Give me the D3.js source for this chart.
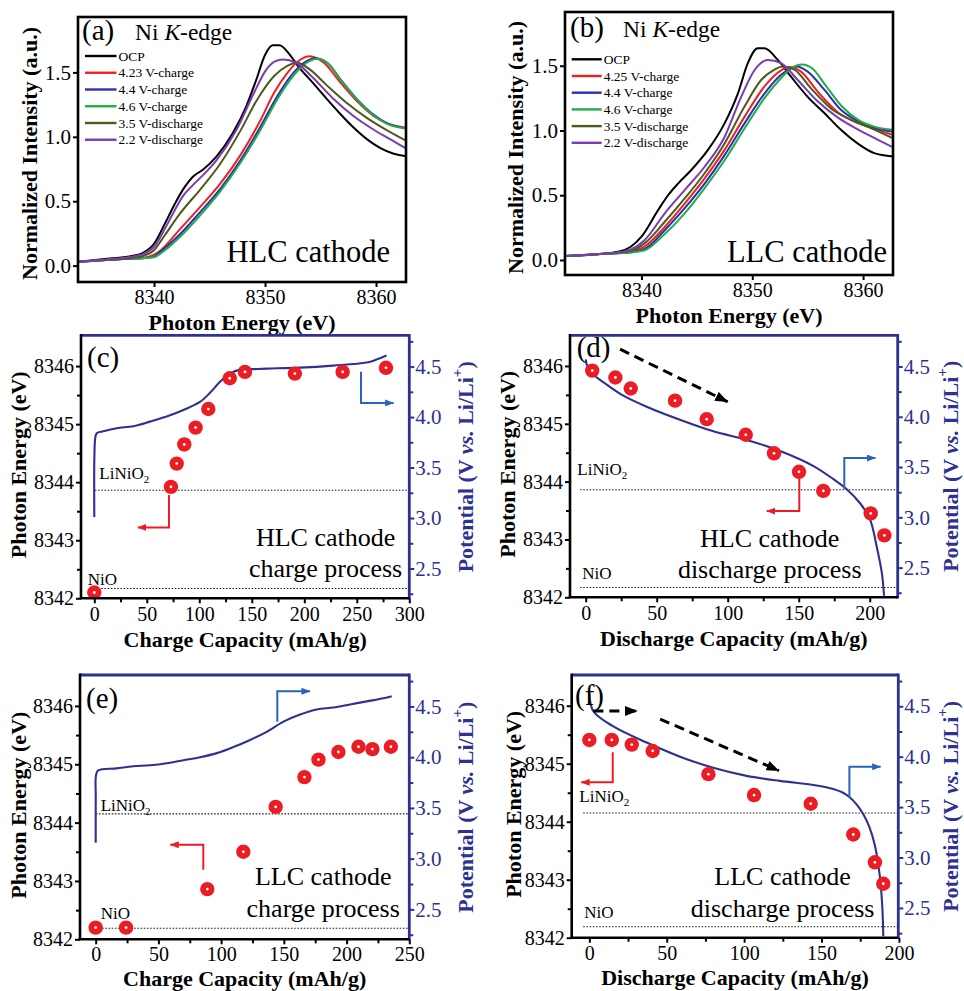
<!DOCTYPE html>
<html>
<head>
<meta charset="utf-8">
<script src="https://cdn.jsdelivr.net/npm/d3@7"></script>
<style>
  html, body { margin: 0; padding: 0; background: #fff; }
  svg { display: block; }
</style>
</head>
<body>
<svg id="fig" width="964" height="991"></svg>
<script>
// ---------------- Ni K-edge XANES spectra: [photon energy (eV), normalized intensity] ----------------
const legendA = ["OCP", "4.23 V-charge", "4.4 V-charge", "4.6 V-charge", "3.5 V-discharge", "2.2 V-discharge"];
const legendB = ["OCP", "4.25 V-charge", "4.4 V-charge", "4.6 V-charge", "3.5 V-discharge", "2.2 V-discharge"];
const seriesColors = ["#000000", "#f0201e", "#2b2fb0", "#1fae48", "#4d5a1c", "#7a3bb4"];

const hlcOCP = [[8333.2,0.03],[8336,0.055],[8338,0.075],[8339,0.10],[8340,0.17],[8341,0.33],[8342,0.50],[8342.8,0.615],[8343.5,0.69],[8344.4,0.745],[8345.6,0.845],[8347.1,1.03],[8348.3,1.235],[8349.2,1.44],[8350,1.635],[8350.7,1.71],[8351.3,1.71],[8352.2,1.64],[8353.1,1.535],[8354.3,1.42],[8355.5,1.30],[8356.7,1.185],[8358,1.07],[8359.2,0.98],[8360.4,0.912],[8361.6,0.868],[8362.7,0.85]];
const hlc423 = [[8333.2,0.03],[8336,0.045],[8338,0.055],[8339,0.06],[8340,0.085],[8340.6,0.12],[8342.3,0.28],[8344.1,0.45],[8346,0.64],[8347.8,0.86],[8349.6,1.13],[8350.8,1.34],[8352,1.495],[8353.2,1.60],[8354,1.625],[8355.3,1.575],[8356.8,1.42],[8358.3,1.275],[8359.8,1.16],[8361,1.105],[8362.7,1.068]];
const hlc44 = [[8333.2,0.03],[8336,0.045],[8338,0.055],[8339,0.058],[8340,0.07],[8340.6,0.11],[8342.3,0.24],[8344.1,0.41],[8346,0.60],[8347.8,0.82],[8349.6,1.08],[8351.1,1.315],[8352.3,1.47],[8353.5,1.575],[8354.5,1.61],[8355.6,1.575],[8356.8,1.445],[8358.3,1.29],[8359.8,1.17],[8361,1.105],[8362.7,1.068]];
const hlc46 = [[8333.2,0.03],[8336,0.045],[8338,0.055],[8339,0.058],[8340,0.065],[8340.6,0.095],[8342.3,0.22],[8344.1,0.385],[8346,0.58],[8347.8,0.80],[8349.6,1.055],[8351.1,1.29],[8352.3,1.445],[8353.5,1.56],[8354.8,1.605],[8355.8,1.56],[8357,1.42],[8358.5,1.27],[8359.8,1.165],[8361,1.10],[8362.7,1.065]];
const hlc35d = [[8333.2,0.03],[8336,0.045],[8338,0.06],[8339,0.075],[8340,0.12],[8341,0.24],[8342.3,0.40],[8344.1,0.585],[8346,0.795],[8347.8,1.05],[8349.3,1.29],[8350.8,1.47],[8352,1.55],[8352.9,1.575],[8354,1.525],[8355.5,1.405],[8357.4,1.26],[8359.2,1.145],[8361,1.05],[8362.7,0.97]];
const hlc22d = [[8333.2,0.03],[8336,0.05],[8338,0.07],[8339,0.09],[8340,0.145],[8341,0.29],[8341.8,0.42],[8342.6,0.54],[8343.5,0.625],[8344.5,0.71],[8345.6,0.815],[8347.4,1.05],[8349,1.34],[8350.1,1.52],[8350.9,1.585],[8351.6,1.60],[8352.8,1.575],[8354.3,1.46],[8356.1,1.30],[8358,1.16],[8359.8,1.055],[8361.5,0.97],[8362.7,0.91]];

const llcOCP = [[8333.1,0.03],[8336,0.045],[8338,0.065],[8339,0.10],[8340,0.18],[8341.5,0.385],[8342.4,0.50],[8343.3,0.59],[8344.5,0.695],[8346,0.85],[8347.5,1.055],[8348.7,1.285],[8349.6,1.52],[8350.5,1.635],[8351.1,1.635],[8352.3,1.545],[8353.5,1.415],[8355,1.26],[8356.5,1.135],[8358,1.005],[8359.5,0.90],[8361,0.825],[8362.7,0.80]];
const llc425 = [[8333.1,0.03],[8336,0.045],[8338,0.055],[8339,0.065],[8340.3,0.105],[8342.1,0.255],[8343.9,0.435],[8345.7,0.63],[8347.5,0.85],[8349.3,1.105],[8351.1,1.34],[8352.6,1.465],[8353.4,1.49],[8354.4,1.455],[8355.9,1.30],[8357.8,1.135],[8359.6,1.055],[8361.3,1.005],[8362.7,0.965]];
const llc44 = [[8333.1,0.03],[8336,0.045],[8338,0.053],[8339,0.06],[8340.3,0.085],[8342.1,0.23],[8343.9,0.40],[8345.7,0.59],[8347.5,0.81],[8349.3,1.055],[8351.1,1.285],[8352.6,1.43],[8354,1.495],[8355,1.455],[8356.5,1.315],[8358,1.16],[8359.6,1.07],[8361.3,1.015],[8362.7,0.99]];
const llc46 = [[8333.1,0.03],[8336,0.045],[8338,0.052],[8339,0.058],[8340.3,0.075],[8342.1,0.20],[8343.9,0.36],[8345.7,0.555],[8347.5,0.77],[8349.3,1.015],[8351.1,1.25],[8352.6,1.405],[8353.5,1.48],[8354.5,1.51],[8355.4,1.48],[8356.6,1.35],[8358.1,1.185],[8359.6,1.08],[8361,1.03],[8362.7,1.005]];
const llc35d = [[8333.1,0.03],[8336,0.045],[8338,0.058],[8339,0.07],[8340.3,0.13],[8342.1,0.295],[8343.9,0.475],[8345.7,0.67],[8347.5,0.90],[8349.3,1.185],[8350.8,1.39],[8352,1.47],[8352.7,1.495],[8353.8,1.47],[8355.3,1.325],[8357.1,1.17],[8359,1.08],[8360.8,1.015],[8362.7,0.94]];
const llc22d = [[8333.1,0.03],[8336,0.045],[8338,0.06],[8339,0.08],[8340.3,0.155],[8342.1,0.36],[8343.9,0.54],[8345.7,0.72],[8347.5,0.95],[8349,1.26],[8350.2,1.465],[8351.4,1.545],[8352.6,1.52],[8354.1,1.39],[8355.9,1.225],[8357.8,1.095],[8359.6,1.005],[8361.3,0.93],[8362.7,0.87]];

const xanesEnergyTicks = [8340, 8350, 8360];
const xanesIntensityTicks = [0, 0.5, 1.0, 1.5];

// ---------------- Edge energy vs. capacity, with the voltage profile ----------------
// (c) HLC charge
const capHlcCharge   = [0, 73, 78.5, 85.7, 96.5, 108.6, 129, 143.5, 191, 236.5, 277.8];
const edgeHlcCharge  = [8342.1, 8343.92, 8344.32, 8344.65, 8344.94, 8345.26, 8345.79, 8345.9, 8345.87, 8345.9, 8345.97];
const vCapHlcCharge  = [0, 0.1, 1, 2.3, 8.6, 21.3, 37.2, 53, 68.9, 84.8, 100.6, 110.2, 119.7, 129.2, 138.7, 151.4, 164.1, 195.8, 227.5, 259.3, 268.8, 278.3];
const voltHlcCharge  = [3.01, 3.62, 3.80, 3.84, 3.86, 3.89, 3.91, 3.955, 4.005, 4.07, 4.15, 4.24, 4.35, 4.43, 4.47, 4.475, 4.48, 4.49, 4.51, 4.54, 4.57, 4.61];
// (d) HLC discharge
const capHlcDis      = [4.6, 20.9, 31.7, 62.9, 85.2, 112.7, 132.6, 150.2, 167.3, 200.7, 210.3];
const edgeHlcDis     = [8345.92, 8345.8, 8345.61, 8345.4, 8345.08, 8344.81, 8344.49, 8344.17, 8343.84, 8343.45, 8343.07];
const vCapHlcDis     = [0, 1.2, 5.4, 14.8, 26.5, 42.9, 66.4, 89.9, 113.4, 136.9, 160.4, 174.4, 183.8, 193.2, 200.2, 204.9, 208.5, 210.1];
const voltHlcDis     = [4.57, 4.50, 4.42, 4.32, 4.21, 4.10, 3.97, 3.855, 3.77, 3.66, 3.51, 3.38, 3.28, 3.14, 2.98, 2.71, 2.45, 2.22];
// (e) LLC charge
const capLlcCharge   = [0, 24.2, 89, 117.7, 143.5, 166.4, 177.6, 193.5, 209.5, 220.6, 235.3];
const edgeLlcCharge  = [8342.2, 8342.2, 8342.86, 8343.5, 8344.27, 8344.78, 8345.08, 8345.21, 8345.3, 8345.26, 8345.3];
const vCapLlcCharge  = [0, 0.05, 0.3, 2, 16.7, 30, 43.3, 56.6, 69.9, 83.2, 96.5, 109.8, 123.1, 136.3, 149.7, 162.9, 176.2, 189.5, 202.8, 216.1, 229.4, 236];
const voltLlcCharge  = [3.156, 3.6, 3.825, 3.87, 3.89, 3.91, 3.92, 3.94, 3.97, 4.0, 4.04, 4.10, 4.17, 4.25, 4.35, 4.42, 4.47, 4.49, 4.52, 4.55, 4.58, 4.60];
// (f) LLC discharge
const capLlcDis      = [0, 14.5, 27.4, 40.9, 76.9, 106.4, 143, 170.5, 184.5, 189.9];
const edgeLlcDis     = [8345.41, 8345.41, 8345.33, 8345.22, 8344.82, 8344.46, 8344.31, 8343.78, 8343.3, 8342.93];
const vCapLlcDis     = [0, 2.6, 15.5, 37, 58.6, 80, 101.6, 123, 144.7, 155, 163, 168, 172.5, 177, 181, 184.5, 187.7, 189.3, 189.9];
const voltLlcDis     = [4.63, 4.45, 4.30, 4.14, 4.0, 3.89, 3.81, 3.76, 3.72, 3.69, 3.65, 3.60, 3.53, 3.43, 3.30, 3.12, 2.81, 2.50, 2.22];

// Reference edge energies [LiNiO2, NiO]
const refEdgeHlc = [8343.86, 8342.17];
const refEdgeLlc = [8344.15, 8342.19];

const edgeTicks  = [8342, 8343, 8344, 8345, 8346];
const edgeMinor  = [8342.5, 8343.5, 8344.5, 8345.5];
const voltTicks  = [2.5, 3.0, 3.5, 4.0, 4.5];
const voltMinor  = [2.25, 2.75, 3.25, 3.75, 4.25, 4.75];

// ---------------- drawing ----------------
const SERIF = "'Liberation Serif','Times New Roman',serif";
const NAVY = "#2e3192";
const RED = "#ec1c24";
const LIGHT_BLUE = "#2a63bb";

const svg = d3.select("#fig").attr("font-family", SERIF);
const defs = svg.append("defs");

function addMarker(id, color, len, wid) {
  defs.append("marker")
    .attr("id", id)
    .attr("viewBox", `0 0 ${len} ${wid}`)
    .attr("refX", len - 0.5).attr("refY", wid / 2)
    .attr("markerUnits", "userSpaceOnUse")
    .attr("markerWidth", len).attr("markerHeight", wid)
    .attr("orient", "auto")
    .append("path")
    .attr("d", `M0,0L${len},${wid / 2}L0,${wid}Z`)
    .attr("fill", color);
}
addMarker("headBlue", LIGHT_BLUE, 9, 7);
addMarker("headRed", RED, 9, 7);
addMarker("headBlack", "#000", 13, 10);

let clipCount = 0;
function clipFor(box) {
  const id = "clip" + (clipCount++);
  defs.append("clipPath").attr("id", id)
    .append("rect").attr("x", box.l).attr("y", box.t)
    .attr("width", box.r - box.l).attr("height", box.b - box.t);
  return `url(#${id})`;
}

function styleAxis(sel, color, size) {
  sel.select(".domain").remove();
  sel.attr("font-family", SERIF).attr("font-size", size);
  sel.selectAll(".tick line").attr("stroke", color).attr("stroke-width", 2);
  sel.selectAll(".tick text").attr("fill", color);
}

function xanesPanel(cfg) {
  const { box } = cfg;
  const x = d3.scaleLinear().domain(cfg.xDom).range([box.l, box.r]);
  const y = d3.scaleLinear().domain(cfg.yDom).range([box.b, box.t]);
  const g = svg.append("g");

  const line = d3.line().x(d => x(d[0])).y(d => y(d[1])).curve(d3.curveMonotoneX);
  const plot = g.append("g").attr("clip-path", clipFor(box));
  cfg.series.forEach((s, i) => {
    plot.append("path").attr("d", line(s))
      .attr("fill", "none").attr("stroke", seriesColors[i])
      .attr("stroke-width", 2).attr("stroke-linejoin", "round");
  });

  g.append("g").attr("transform", `translate(0,${box.b})`)
    .call(d3.axisBottom(x).tickValues(xanesEnergyTicks).tickSize(5).tickPadding(3).tickFormat(d3.format("d")))
    .call(s => styleAxis(s, "#000", 20));
  g.append("g").attr("transform", `translate(${box.l},0)`)
    .call(d3.axisLeft(y).tickValues(xanesIntensityTicks).tickSize(5).tickPadding(2).tickFormat(d3.format(".1f")))
    .call(s => styleAxis(s, "#000", 21));

  g.append("rect").attr("x", box.l).attr("y", box.t)
    .attr("width", box.r - box.l).attr("height", box.b - box.t)
    .attr("fill", "none").attr("stroke", "#000").attr("stroke-width", 2.6);

  // legend
  cfg.legend.forEach((name, i) => {
    const ly = cfg.legendY + i * cfg.legendStep;
    g.append("line").attr("x1", cfg.legendX).attr("x2", cfg.legendX + cfg.legendLen)
      .attr("y1", ly).attr("y2", ly).attr("stroke", seriesColors[i]).attr("stroke-width", 2.4);
    g.append("text").attr("x", cfg.legendX + cfg.legendLen + 2).attr("y", ly + 4.6)
      .attr("font-size", 13.5).attr("fill", "#000").text(name);
  });

  // panel tag and edge name
  g.append("text").attr("x", box.l + cfg.tagDx).attr("y", box.t + cfg.tagDy)
    .attr("font-size", 29).text(cfg.tag);
  const edge = g.append("text").attr("x", cfg.edgeX).attr("y", box.t + cfg.tagDy).attr("font-size", 23.5);
  edge.append("tspan").text("Ni ");
  edge.append("tspan").attr("font-style", "italic").text("K");
  edge.append("tspan").text("-edge");

  g.append("text").attr("x", box.r - cfg.nameDx).attr("y", box.b - cfg.nameDy)
    .attr("text-anchor", "end").attr("font-size", 30.5).text(cfg.name);

  // axis titles
  g.append("text").attr("x", (box.l + box.r) / 2).attr("y", box.b + cfg.xTitleDy)
    .attr("text-anchor", "middle").attr("font-size", 22).attr("font-weight", "bold")
    .text("Photon Energy (eV)");
  g.append("text")
    .attr("transform", `translate(${box.l - cfg.yTitleDx},${(box.t + box.b) / 2 + 4}) rotate(-90)`)
    .attr("text-anchor", "middle").attr("dominant-baseline", "central")
    .attr("font-size", 22).attr("font-weight", "bold")
    .text("Normalized Intensity (a.u.)");
}

function echemPanel(cfg) {
  const { box } = cfg;
  const x = d3.scaleLinear().domain(cfg.xDom).range([box.l, box.r]);
  const yE = d3.scaleLinear().domain([8342, 8346.53]).range([box.b, box.t]);
  const yV = d3.scaleLinear().domain([2.205, 4.81]).range([box.b, box.t]);
  const g = svg.append("g");
  const plot = g.append("g").attr("clip-path", clipFor(box));

  // reference edge energies
  cfg.refs.forEach(e => {
    plot.append("line").attr("x1", x(cfg.refStart)).attr("x2", box.r)
      .attr("y1", yE(e)).attr("y2", yE(e))
      .attr("stroke", "#222").attr("stroke-width", 1.1).attr("stroke-dasharray", "1.6,1.6");
  });

  // voltage profile
  const vPts = cfg.vCap.map((c, i) => [c, cfg.volt[i]]);
  const vLine = d3.line().x(d => x(d[0])).y(d => yV(d[1])).curve(d3.curveCatmullRom.alpha(0.5));
  plot.append("path").attr("d", vLine(vPts)).attr("fill", "none")
    .attr("stroke", NAVY).attr("stroke-width", 2.1);

  // annotation arrows
  const pathE = d3.line().x(d => x(d[0])).y(d => yE(d[1]));
  const pathV = d3.line().x(d => x(d[0])).y(d => yV(d[1]));
  plot.append("path").attr("d", pathV(cfg.blueArrow)).attr("fill", "none")
    .attr("stroke", LIGHT_BLUE).attr("stroke-width", 2).attr("marker-end", "url(#headBlue)");
  plot.append("path").attr("d", pathE(cfg.redArrow)).attr("fill", "none")
    .attr("stroke", RED).attr("stroke-width", 2).attr("marker-end", "url(#headRed)");
  (cfg.trendArrows || []).forEach(a => {
    plot.append("path").attr("d", pathE(a)).attr("fill", "none")
      .attr("stroke", "#000").attr("stroke-width", 3).attr("stroke-dasharray", "10,6")
      .attr("marker-end", "url(#headBlack)");
  });

  // edge energy points
  const pts = cfg.cap.map((c, i) => [c, cfg.edge[i]]);
  plot.selectAll("circle.pt").data(pts).join("circle").attr("class", "pt")
    .attr("cx", d => x(d[0])).attr("cy", d => yE(d[1])).attr("r", 7.2).attr("fill", RED);
  plot.selectAll("circle.hl").data(pts).join("circle").attr("class", "hl")
    .attr("cx", d => x(d[0])).attr("cy", d => yE(d[1])).attr("r", 1.4).attr("fill", "#fff");

  // axes
  g.append("g").attr("transform", `translate(0,${box.b})`)
    .call(d3.axisBottom(x).tickValues(cfg.xTicks).tickSize(5).tickPadding(cfg.xPad).tickFormat(d3.format("d")))
    .call(s => styleAxis(s, "#000", 20));
  g.append("g").attr("transform", `translate(0,${box.b})`)
    .call(d3.axisBottom(x).tickValues(cfg.xMinor).tickSize(4).tickFormat(""))
    .call(s => styleAxis(s, "#000", 20));
  g.append("g").attr("transform", `translate(${box.l},0)`)
    .call(d3.axisLeft(yE).tickValues(edgeTicks).tickSize(5).tickPadding(2).tickFormat(d3.format("d")))
    .call(s => styleAxis(s, "#000", 20));
  g.append("g").attr("transform", `translate(${box.l},0)`)
    .call(d3.axisLeft(yE).tickValues(edgeMinor).tickSize(4).tickFormat(""))
    .call(s => styleAxis(s, "#000", 20));
  g.append("g").attr("transform", `translate(${box.r},0)`)
    .call(d3.axisRight(yV).tickValues(voltTicks).tickSize(5).tickPadding(1).tickFormat(d3.format(".1f")))
    .call(s => styleAxis(s, NAVY, 21));
  g.append("g").attr("transform", `translate(${box.r},0)`)
    .call(d3.axisRight(yV).tickValues(voltMinor).tickSize(4).tickFormat(""))
    .call(s => styleAxis(s, NAVY, 21));

  // frame: left/bottom black, top/right navy
  g.append("line").attr("x1", box.l).attr("x2", box.r).attr("y1", box.t).attr("y2", box.t)
    .attr("stroke", NAVY).attr("stroke-width", 2.8);
  g.append("line").attr("x1", box.r).attr("x2", box.r).attr("y1", box.t - 1.4).attr("y2", box.b + 1.3)
    .attr("stroke", NAVY).attr("stroke-width", 2.8);
  g.append("line").attr("x1", box.l - 1.3).attr("x2", box.r).attr("y1", box.b).attr("y2", box.b)
    .attr("stroke", "#000").attr("stroke-width", 2.6);
  g.append("line").attr("x1", box.l).attr("x2", box.l).attr("y1", box.t - 1.4).attr("y2", box.b)
    .attr("stroke", "#000").attr("stroke-width", 2.6);

  // in-plot text
  g.append("text").attr("x", box.l + cfg.tagDx).attr("y", box.t + cfg.tagDy)
    .attr("font-size", 29).text(cfg.tag);
  const li = g.append("text").attr("x", cfg.liPos[0]).attr("y", cfg.liPos[1]).attr("font-size", 17);
  li.append("tspan").text("LiNiO");
  li.append("tspan").attr("font-size", 11).attr("dy", 4).text("2");
  g.append("text").attr("x", cfg.nioPos[0]).attr("y", cfg.nioPos[1]).attr("font-size", 17).text("NiO");
  cfg.caption.forEach((t, i) => {
    g.append("text").attr("x", cfg.captionX).attr("y", cfg.captionY[i])
      .attr("text-anchor", "middle").attr("font-size", 26).text(t);
  });

  // axis titles
  g.append("text").attr("x", (box.l + box.r) / 2).attr("y", box.b + cfg.xTitleDy)
    .attr("text-anchor", "middle").attr("font-size", 22).attr("font-weight", "bold")
    .text(cfg.xTitle);
  g.append("text")
    .attr("transform", `translate(${box.l - cfg.yTitleDx},${(box.t + box.b) / 2 - 2}) rotate(-90)`)
    .attr("text-anchor", "middle").attr("dominant-baseline", "central")
    .attr("font-size", 22).attr("font-weight", "bold")
    .text("Photon Energy (eV)");
  const pt = g.append("text")
    .attr("transform", `translate(${box.r + cfg.vTitleDx},${(box.t + box.b) / 2}) rotate(-90)`)
    .attr("text-anchor", "middle").attr("dominant-baseline", "central")
    .attr("font-size", 22).attr("font-weight", "bold").attr("fill", NAVY);
  pt.append("tspan").text("Potential (V ");
  pt.append("tspan").attr("font-style", "italic").text("vs.");
  pt.append("tspan").text(" Li/Li");
  pt.append("tspan").attr("font-size", 15).attr("dy", -8).text("+");
  pt.append("tspan").attr("dy", 8).text(")");
}

// (a) HLC XANES
xanesPanel({
  box: { l: 78, r: 406, t: 17, b: 282 },
  xDom: [8333.15, 8362.7], yDom: [-0.127, 1.93],
  series: [hlcOCP, hlc423, hlc44, hlc46, hlc35d, hlc22d],
  legend: legendA, legendX: 85, legendY: 56, legendStep: 16.75, legendLen: 31.5,
  tag: "(a)", tagDx: 4, tagDy: 23, edgeX: 135,
  name: "HLC cathode", nameDx: 16, nameDy: 20,
  xTitleDy: 47.5, yTitleDx: 49
});

// (b) LLC XANES
xanesPanel({
  box: { l: 565, r: 893, t: 12, b: 275 },
  xDom: [8333.1, 8362.7], yDom: [-0.116, 1.915],
  series: [llcOCP, llc425, llc44, llc46, llc35d, llc22d],
  legend: legendB, legendX: 571.7, legendY: 59.3, legendStep: 16.7, legendLen: 30,
  tag: "(b)", tagDx: 5, tagDy: 25, edgeX: 623,
  name: "LLC cathode", nameDx: 6, nameDy: 13.3,
  xTitleDy: 47.5, yTitleDx: 50
});

// (c) HLC charge
echemPanel({
  box: { l: 81, r: 409.3, t: 335.3, b: 598.3 },
  xDom: [-12.67, 300], xTicks: [0, 50, 100, 150, 200, 250, 300], xMinor: [25, 75, 125, 175, 225, 275],
  cap: capHlcCharge, edge: edgeHlcCharge, vCap: vCapHlcCharge, volt: voltHlcCharge,
  refs: refEdgeHlc, refStart: 0.5,
  blueArrow: [[254, 4.45], [254, 4.14], [285, 4.14]],
  redArrow: [[71.1, 8343.78], [71.1, 8343.22], [41.5, 8343.22]],
  tag: "(c)", tagDx: 6, tagDy: 32,
  liPos: [99.3, 479.3], nioPos: [87.7, 585],
  caption: ["HLC cathode", "charge process"], captionX: 325.6, captionY: [546, 576.7],
  xTitle: "Charge Capacity (mAh/g)", xPad: 4, xTitleDy: 48.5, yTitleDx: 63, vTitleDx: 56
});

// (d) HLC discharge
echemPanel({
  box: { l: 570, r: 897.7, t: 335.3, b: 597.3 },
  xDom: [-11.06, 219.7], xTicks: [0, 50, 100, 150, 200], xMinor: [25, 75, 125, 175],
  cap: capHlcDis, edge: edgeHlcDis, vCap: vCapHlcDis, volt: voltHlcDis,
  refs: refEdgeHlc, refStart: -4,
  blueArrow: [[182.1, 3.28], [182.1, 3.59], [204, 3.59]],
  redArrow: [[150.4, 8344.08], [150.4, 8343.49], [127.5, 8343.49]],
  trendArrows: [[[24.2, 8346.29], [100, 8345.38]]],
  tag: "(d)", tagDx: 6.7, tagDy: 22,
  liPos: [577.3, 475], nioPos: [582.3, 579.3],
  caption: ["HLC cathode", "discharge process"], captionX: 769.7, captionY: [546.7, 578.3],
  xTitle: "Discharge Capacity (mAh/g)", xPad: 4, xTitleDy: 48.5, yTitleDx: 63, vTitleDx: 52
});

// (e) LLC charge
echemPanel({
  box: { l: 80, r: 409.3, t: 675, b: 939.3 },
  xDom: [-12.5, 250], xTicks: [0, 50, 100, 150, 200, 250], xMinor: [25, 75, 125, 175, 225],
  cap: capLlcCharge, edge: edgeLlcCharge, vCap: vCapLlcCharge, volt: voltLlcCharge,
  refs: refEdgeLlc, refStart: 0,
  blueArrow: [[144.8, 4.35], [144.8, 4.65], [170.8, 4.65]],
  redArrow: [[85.8, 8343.19], [85.8, 8343.62], [59.5, 8343.62]],
  tag: "(e)", tagDx: 6, tagDy: 33,
  liPos: [100.7, 811], nioPos: [100.7, 919.3],
  caption: ["LLC cathode", "charge process"], captionX: 323.2, captionY: [885, 916.7],
  xTitle: "Charge Capacity (mAh/g)", xPad: 3, xTitleDy: 46.2, yTitleDx: 62, vTitleDx: 56
});

// (f) LLC discharge
echemPanel({
  box: { l: 571.7, r: 898.3, t: 675, b: 937.7 },
  xDom: [-11.4, 199.6], xTicks: [0, 50, 100, 150, 200], xMinor: [25, 75, 125, 175],
  cap: capLlcDis, edge: edgeLlcDis, vCap: vCapLlcDis, volt: voltLlcDis,
  refs: refEdgeLlc, refStart: -4,
  blueArrow: [[168, 3.59], [168, 3.90], [188.2, 3.90]],
  redArrow: [[15.1, 8345.2], [15.1, 8344.68], [-5.3, 8344.68]],
  trendArrows: [[[2.6, 8345.91], [31, 8345.91]], [[45.7, 8345.77], [122.5, 8344.88]]],
  tag: "(f)", tagDx: 3.3, tagDy: 30,
  liPos: [579.3, 801.7], nioPos: [584.3, 918.3],
  caption: ["LLC cathode", "discharge process"], captionX: 782.6, captionY: [885, 916.7],
  xTitle: "Discharge Capacity (mAh/g)", xPad: 3.5, xTitleDy: 47, yTitleDx: 58, vTitleDx: 52
});
</script>
</body>
</html>
